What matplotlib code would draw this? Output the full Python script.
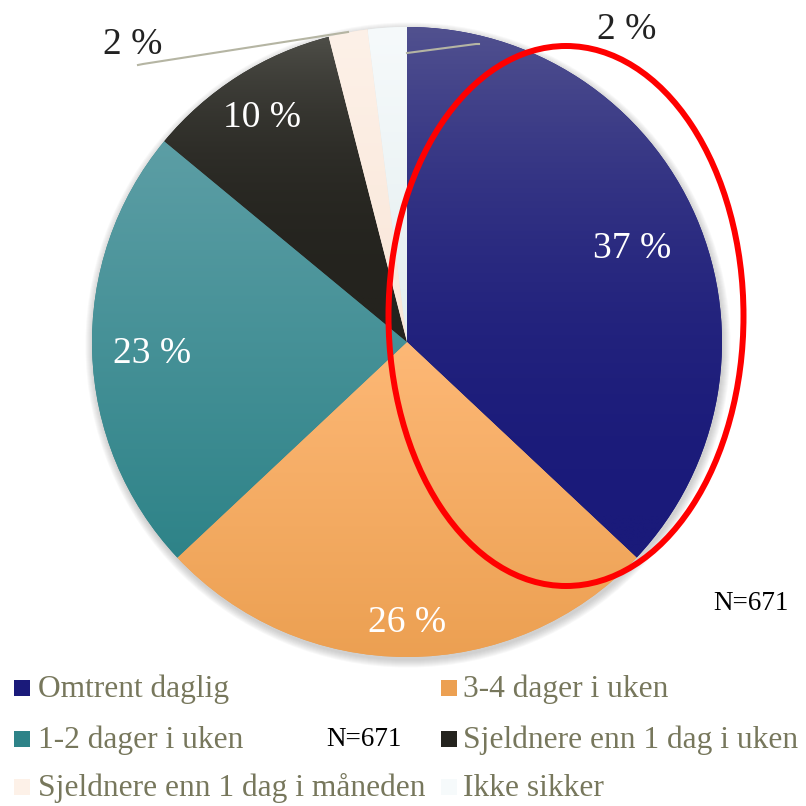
import numpy as np
import matplotlib.pyplot as plt
from matplotlib.colors import LinearSegmentedColormap
from matplotlib.patches import Ellipse, Circle, Rectangle

# data
categories = ["Omtrent daglig", "3-4 dager i uken", "1-2 dager i uken",
              "Sjeldnere enn 1 dag i uken", "Sjeldnere enn 1 dag i måneden",
              "Ikke sikker"]
values = [37, 26, 23, 10, 2, 2]
n_text = "N=671"

# top / bottom colours of each slice gradient
top_colors = ["#51518f", "#fdb876", "#5c9ea5", "#4e4e48", "#fdf1e8", "#f6fafb"]
bottom_colors = ["#1a1a7a", "#eca052", "#2e8388", "#24231e", "#f9e6d8", "#e4eef0"]
gammas = [2.2, 1.0, 1.0, 3.0, 1.0, 1.0]

plt.rcParams['font.family'] = ['Liberation Serif', 'DejaVu Serif']

W = H = 806
fig = plt.figure(figsize=(W / 100, H / 100), dpi=100)
ax = fig.add_axes([0, 0, 1, 1])

def py(y):
    # image pixel row -> axes y
    return H - y

cx, cy, R = 407, py(342), 315

# soft shadow round the pie
for i in range(8):
    ax.add_patch(Circle((cx + 1, cy - 3), R + 0.5 + i * 1.0, color="#808080",
                        alpha=0.05, lw=0, zorder=0))

wedges, _ = ax.pie(values, startangle=90, counterclock=False, radius=R,
                   center=(cx, cy), colors=bottom_colors,
                   wedgeprops=dict(linewidth=0))

for w, c0, c1, g in zip(wedges, top_colors, bottom_colors, gammas):
    w.set_zorder(1)
    ext = w.get_path().get_extents()
    grad = np.linspace(1, 0, 256).reshape(-1, 1) ** g
    cmap = LinearSegmentedColormap.from_list("g", [c1, c0])
    im = ax.imshow(grad, cmap=cmap, extent=(ext.x0, ext.x1, ext.y0, ext.y1),
                   aspect="auto", origin="upper", zorder=2, vmin=0, vmax=1)
    im.set_clip_path(w)

# percentage labels
label_r = [0.78, 0.88, 0.81, 0.86]
cum = np.cumsum([0] + values)
for i, r in enumerate(label_r):
    mid = np.deg2rad(90 - (cum[i] + values[i] / 2) * 3.6)
    ax.text(cx + r * R * np.cos(mid), cy + r * R * np.sin(mid),
            f"{values[i]} %", color="white", fontsize=27,
            ha="center", va="center_baseline", zorder=5)

# small slices, labels outside with leader lines
lead = "#b5b5a3"
ax.plot([138, 143, 348], [py(65), py(64), py(32)], color=lead, lw=1.5, zorder=4)
ax.plot([407, 476, 479], [py(53), py(44), py(44)], color=lead, lw=1.5, zorder=4)
ax.text(133, py(54), f"{values[4]} %", color="#222222", fontsize=27,
        ha="center", va="baseline", zorder=5)
ax.text(627, py(39), f"{values[5]} %", color="#222222", fontsize=27,
        ha="center", va="baseline", zorder=5)

# red highlight ellipse
ax.add_patch(Ellipse((566, py(316)), 355, 540, fill=False, edgecolor="#ff0000",
                     lw=4.3, zorder=6))

ax.text(751, py(603), n_text, fontsize=19.5, color="black",
        ha="center", va="center", zorder=5)

# legend, two columns
legend_color = "#77775c"
rows = [697, 748, 796]
cols = [(14, 38), (441, 463)]
for k, name in enumerate(categories):
    row, col = rows[k // 2], cols[k % 2]
    ax.add_patch(Rectangle((col[0], py(row) + 1), 16, 16,
                           color=bottom_colors[k] if k < 4 else top_colors[k],
                           lw=0, zorder=5))
    ax.text(col[1], py(row), name, fontsize=22.7, color=legend_color,
            ha="left", va="baseline", zorder=5)
ax.text(364, py(740), n_text, fontsize=19.5, color="black",
        ha="center", va="center", zorder=5)

ax.set_xlim(0, W)
ax.set_ylim(0, H)
ax.set_aspect("auto")
ax.axis("off")

fig.savefig("out.png", dpi=100)
